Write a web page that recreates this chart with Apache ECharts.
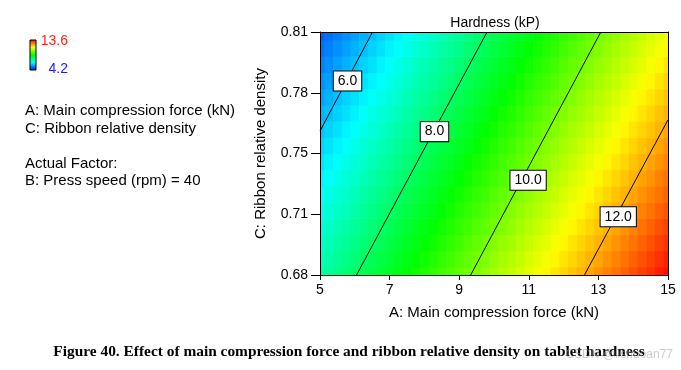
<!DOCTYPE html>
<html><head><meta charset="utf-8">
<script src="https://cdn.jsdelivr.net/npm/echarts@6/dist/echarts.min.js"></script>
<style>html,body{margin:0;padding:0;background:#fff}#c{width:681px;height:370px}</style>
</head><body><div id="c"></div>
<script>
// ---- data ----
const xTickLabels = ['5','7','9','11','13','15'];
const yTickLabels = ['0.68','0.71','0.75','0.78','0.81'];
const xGrid = [5,5.25,5.5,5.75,6,6.25,6.5,6.75,7,7.25,7.5,7.75,8,8.25,8.5,8.75,9,9.25,9.5,9.75,10,10.25,10.5,10.75,11,11.25,11.5,11.75,12,12.25,12.5,12.75,13,13.25,13.5,13.75,14,14.25,14.5,14.75,15];
const yGrid = [0.6800,0.6887,0.6973,0.7060,0.7147,0.7233,0.7320,0.7407,0.7493,0.7580,0.7667,0.7753,0.7840,0.7927,0.8013,0.8100];
// hardness (kP) estimated on the grid, rows follow yGrid (bottom to top)
const hardness = [
[7.36,7.51,7.66,7.82,7.97,8.12,8.27,8.43,8.58,8.73,8.88,9.04,9.19,9.34,9.49,9.65,9.80,9.95,10.10,10.26,10.41,10.56,10.71,10.87,11.02,11.17,11.32,11.48,11.63,11.78,11.93,12.09,12.24,12.39,12.54,12.70,12.85,13.00,13.15,13.31,13.46],
[7.21,7.36,7.51,7.66,7.82,7.97,8.12,8.27,8.43,8.58,8.73,8.88,9.04,9.19,9.34,9.49,9.65,9.80,9.95,10.10,10.26,10.41,10.56,10.71,10.87,11.02,11.17,11.32,11.48,11.63,11.78,11.93,12.09,12.24,12.39,12.54,12.70,12.85,13.00,13.15,13.31],
[7.05,7.21,7.36,7.51,7.66,7.82,7.97,8.12,8.27,8.43,8.58,8.73,8.88,9.04,9.19,9.34,9.49,9.65,9.80,9.95,10.10,10.26,10.41,10.56,10.71,10.87,11.02,11.17,11.32,11.48,11.63,11.78,11.93,12.09,12.24,12.39,12.54,12.70,12.85,13.00,13.15],
[6.90,7.05,7.21,7.36,7.51,7.66,7.82,7.97,8.12,8.27,8.43,8.58,8.73,8.88,9.04,9.19,9.34,9.49,9.65,9.80,9.95,10.10,10.26,10.41,10.56,10.71,10.87,11.02,11.17,11.32,11.48,11.63,11.78,11.93,12.09,12.24,12.39,12.54,12.70,12.85,13.00],
[6.75,6.90,7.05,7.21,7.36,7.51,7.66,7.82,7.97,8.12,8.27,8.43,8.58,8.73,8.88,9.04,9.19,9.34,9.49,9.65,9.80,9.95,10.10,10.26,10.41,10.56,10.71,10.87,11.02,11.17,11.32,11.48,11.63,11.78,11.93,12.09,12.24,12.39,12.54,12.70,12.85],
[6.60,6.75,6.90,7.05,7.21,7.36,7.51,7.66,7.82,7.97,8.12,8.27,8.43,8.58,8.73,8.88,9.04,9.19,9.34,9.49,9.65,9.80,9.95,10.10,10.26,10.41,10.56,10.71,10.87,11.02,11.17,11.32,11.48,11.63,11.78,11.93,12.09,12.24,12.39,12.54,12.70],
[6.45,6.60,6.75,6.90,7.05,7.21,7.36,7.51,7.66,7.82,7.97,8.12,8.27,8.43,8.58,8.73,8.88,9.04,9.19,9.34,9.49,9.65,9.80,9.95,10.10,10.26,10.41,10.56,10.71,10.87,11.02,11.17,11.32,11.48,11.63,11.78,11.93,12.09,12.24,12.39,12.54],
[6.29,6.45,6.60,6.75,6.90,7.05,7.21,7.36,7.51,7.66,7.82,7.97,8.12,8.27,8.43,8.58,8.73,8.88,9.04,9.19,9.34,9.49,9.65,9.80,9.95,10.10,10.26,10.41,10.56,10.71,10.87,11.02,11.17,11.32,11.48,11.63,11.78,11.93,12.09,12.24,12.39],
[6.14,6.29,6.45,6.60,6.75,6.90,7.05,7.21,7.36,7.51,7.66,7.82,7.97,8.12,8.27,8.43,8.58,8.73,8.88,9.04,9.19,9.34,9.49,9.65,9.80,9.95,10.10,10.26,10.41,10.56,10.71,10.87,11.02,11.17,11.32,11.48,11.63,11.78,11.93,12.09,12.24],
[5.99,6.14,6.29,6.45,6.60,6.75,6.90,7.05,7.21,7.36,7.51,7.66,7.82,7.97,8.12,8.27,8.43,8.58,8.73,8.88,9.04,9.19,9.34,9.49,9.65,9.80,9.95,10.10,10.26,10.41,10.56,10.71,10.87,11.02,11.17,11.32,11.48,11.63,11.78,11.93,12.09],
[5.84,5.99,6.14,6.29,6.45,6.60,6.75,6.90,7.05,7.21,7.36,7.51,7.66,7.82,7.97,8.12,8.27,8.43,8.58,8.73,8.88,9.04,9.19,9.34,9.49,9.65,9.80,9.95,10.10,10.26,10.41,10.56,10.71,10.87,11.02,11.17,11.32,11.48,11.63,11.78,11.93],
[5.68,5.84,5.99,6.14,6.29,6.45,6.60,6.75,6.90,7.05,7.21,7.36,7.51,7.66,7.82,7.97,8.12,8.27,8.43,8.58,8.73,8.88,9.04,9.19,9.34,9.49,9.65,9.80,9.95,10.10,10.26,10.41,10.56,10.71,10.87,11.02,11.17,11.32,11.48,11.63,11.78],
[5.53,5.68,5.84,5.99,6.14,6.29,6.45,6.60,6.75,6.90,7.05,7.21,7.36,7.51,7.66,7.82,7.97,8.12,8.27,8.43,8.58,8.73,8.88,9.04,9.19,9.34,9.49,9.65,9.80,9.95,10.10,10.26,10.41,10.56,10.71,10.87,11.02,11.17,11.32,11.48,11.63],
[5.38,5.53,5.68,5.84,5.99,6.14,6.29,6.45,6.60,6.75,6.90,7.05,7.21,7.36,7.51,7.66,7.82,7.97,8.12,8.27,8.43,8.58,8.73,8.88,9.04,9.19,9.34,9.49,9.65,9.80,9.95,10.10,10.26,10.41,10.56,10.71,10.87,11.02,11.17,11.32,11.48],
[5.23,5.38,5.53,5.68,5.84,5.99,6.14,6.29,6.45,6.60,6.75,6.90,7.05,7.21,7.36,7.51,7.66,7.82,7.97,8.12,8.27,8.43,8.58,8.73,8.88,9.04,9.19,9.34,9.49,9.65,9.80,9.95,10.10,10.26,10.41,10.56,10.71,10.87,11.02,11.17,11.32],
[5.07,5.23,5.38,5.53,5.68,5.84,5.99,6.14,6.29,6.45,6.60,6.75,6.90,7.05,7.21,7.36,7.51,7.66,7.82,7.97,8.12,8.27,8.43,8.58,8.73,8.88,9.04,9.19,9.34,9.49,9.65,9.80,9.95,10.10,10.26,10.41,10.56,10.71,10.87,11.02,11.17]
];
const contourLevels = [6, 8, 10, 12];
const contourX = [[5, 6.51], [6.05, 9.80], [9.33, 13.07], [12.60, 15]];
const contourY = [[0.757, 0.81], [0.68, 0.81], [0.68, 0.81], [0.68, 0.763]];
const labelX = [5.79, 8.29, 10.98, 13.57];
const labelY = [0.7838, 0.7567, 0.7307, 0.7112];
const colorRange = [4.2, 13.6];

// ---- chart ----
const FONT = '"Liberation Sans", Arial, sans-serif';
const chart = echarts.init(document.getElementById('c'), null, {renderer: 'canvas'});

function edges(arr) {
  const e = [];
  for (let i = 0; i <= arr.length; i++) {
    if (i === 0) e.push(arr[0] - (arr[1] - arr[0]) / 2);
    else if (i === arr.length) e.push(arr[i - 1] + (arr[i - 1] - arr[i - 2]) / 2);
    else e.push((arr[i - 1] + arr[i]) / 2);
  }
  return e;
}
const xEdges = edges(xGrid), yEdges = edges(yGrid);
const cells = [];
hardness.forEach((row, j) => row.forEach((v, i) => cells.push([xGrid[i], yGrid[j], v, i, j])));

const series = [{
  type: 'custom', xAxisIndex: 0, yAxisIndex: 0, z: 1, silent: true,
  encode: {x: 0, y: 1},
  data: cells,
  renderItem: function (params, api) {
    const i = api.value(3), j = api.value(4);
    const p0 = api.coord([xEdges[i], yEdges[j + 1]]);
    const p1 = api.coord([xEdges[i + 1], yEdges[j]]);
    const cs = params.coordSys;
    const r = echarts.graphic.clipRectByRect(
      {x: p0[0], y: p0[1], width: p1[0] - p0[0] + 0.6, height: p1[1] - p0[1] + 0.6},
      {x: cs.x, y: cs.y, width: cs.width, height: cs.height});
    if (!r) return null;
    return {type: 'rect', shape: r, style: {fill: api.visual('color')}};
  }
}];
contourLevels.forEach((lv, k) => {
  series.push({
    type: 'line', xAxisIndex: 0, yAxisIndex: 0, z: 3, silent: true, symbol: 'none',
    lineStyle: {color: '#000', width: 1},
    data: [[contourX[k][0], contourY[k][0]], [contourX[k][1], contourY[k][1]]]
  });
});
series.push({
  type: 'scatter', xAxisIndex: 0, yAxisIndex: 0, z: 5, silent: true,
  symbolSize: 1, itemStyle: {color: '#fff', opacity: 1},
  data: labelX.map((x, k) => [x, labelY[k], contourLevels[k]]),
  label: {
    show: true, position: 'inside',
    formatter: p => p.value[2].toFixed(1),
    fontSize: 14, fontFamily: FONT, color: '#000', opacity: 1,
    backgroundColor: '#ffffff', borderColor: '#000', borderWidth: 1,
    padding: [3, 4, 2, 4]
  }
});

const axisBase = {
  type: 'value', z: 10,
  axisLine: {show: true, onZero: false, lineStyle: {color: '#000', width: 1}},
  splitLine: {show: false}
};

const option = {
  animation: false,
  backgroundColor: '#fff',
  grid: {left: 320, top: 32, width: 348, height: 243, containLabel: false},
  visualMap: {
    show: false, type: 'continuous', min: colorRange[0], max: colorRange[1],
    dimension: 2, seriesIndex: 0,
    inRange: {color: ['#0000ff', '#00ffff', '#00ff00', '#ffff00', '#ff0000']}
  },
  xAxis: [
    {type: 'value', min: 5, max: 15, show: false},
    Object.assign({}, axisBase, {
      min: 0, max: xTickLabels.length - 1, interval: 1, position: 'bottom',
      axisTick: {show: true, inside: false, length: 5, lineStyle: {color: '#000'}},
      axisLabel: {formatter: v => xTickLabels[Math.round(v)], fontSize: 14, color: '#000', fontFamily: FONT, margin: 8},
      name: 'A: Main compression force (kN)', nameLocation: 'middle', nameGap: 30,
      nameTextStyle: {fontSize: 15, color: '#000', fontFamily: FONT}
    }),
    Object.assign({}, axisBase, {min: 0, max: 1, position: 'top', axisTick: {show: false}, axisLabel: {show: false}})
  ],
  yAxis: [
    {type: 'value', min: 0.68, max: 0.81, show: false},
    Object.assign({}, axisBase, {
      min: 0, max: yTickLabels.length - 1, interval: 1, position: 'left',
      axisTick: {show: true, inside: false, length: 9, lineStyle: {color: '#000'}},
      axisLabel: {formatter: v => yTickLabels[Math.round(v)], fontSize: 14, color: '#000', fontFamily: FONT, margin: 12},
      name: 'C: Ribbon relative density', nameLocation: 'middle', nameGap: 52, nameRotate: 90,
      nameTextStyle: {fontSize: 15, color: '#000', fontFamily: FONT}
    }),
    Object.assign({}, axisBase, {min: 0, max: 1, position: 'right', axisTick: {show: false}, axisLabel: {show: false}})
  ],
  graphic: [
    {type: 'text', x: 495, y: 23, z: 10, style: {text: 'Hardness (kP)', font: '14px ' + FONT, fill: '#000', textAlign: 'center', textVerticalAlign: 'middle'}},
    {type: 'rect', x: 30, y: 40, z: 10, shape: {width: 6, height: 30},
      style: {stroke: '#000', lineWidth: 1,
        fill: new echarts.graphic.LinearGradient(0, 0, 0, 1, [
          {offset: 0, color: '#ff0000'}, {offset: 0.25, color: '#ffff00'}, {offset: 0.5, color: '#00ff00'},
          {offset: 0.75, color: '#00ffff'}, {offset: 1, color: '#0000ff'}])}},
    {type: 'text', x: 68, y: 41, z: 10, style: {text: String(colorRange[1]), font: '14px ' + FONT, fill: '#ff2020', textAlign: 'right', textVerticalAlign: 'middle'}},
    {type: 'text', x: 68, y: 69, z: 10, style: {text: String(colorRange[0]), font: '14px ' + FONT, fill: '#2020ff', textAlign: 'right', textVerticalAlign: 'middle'}},
    {type: 'text', x: 25, y: 111, z: 10, style: {text: 'A: Main compression force (kN)', font: '15px ' + FONT, fill: '#000', textVerticalAlign: 'middle'}},
    {type: 'text', x: 25, y: 128.5, z: 10, style: {text: 'C: Ribbon relative density', font: '15px ' + FONT, fill: '#000', textVerticalAlign: 'middle'}},
    {type: 'text', x: 25, y: 163.5, z: 10, style: {text: 'Actual Factor:', font: '15px ' + FONT, fill: '#000', textVerticalAlign: 'middle'}},
    {type: 'text', x: 25, y: 181, z: 10, style: {text: 'B: Press speed (rpm) = 40', font: '15px ' + FONT, fill: '#000', textVerticalAlign: 'middle'}},
    {type: 'text', x: 349, y: 352, z: 10, style: {text: 'Figure 40. Effect of main compression force and ribbon relative density on tablet hardness', font: 'bold 15.4px "Liberation Serif", "Times New Roman", serif', fill: '#000', textAlign: 'center', textVerticalAlign: 'middle'}},
    {type: 'text', x: 673, y: 355, z: 11, style: {text: 'CSDN @lishuoan77', font: '12px ' + FONT, fill: 'rgba(160,160,160,0.55)', textAlign: 'right', textVerticalAlign: 'middle'}}
  ],
  series: series
};
chart.setOption(option);
</script></body></html>
